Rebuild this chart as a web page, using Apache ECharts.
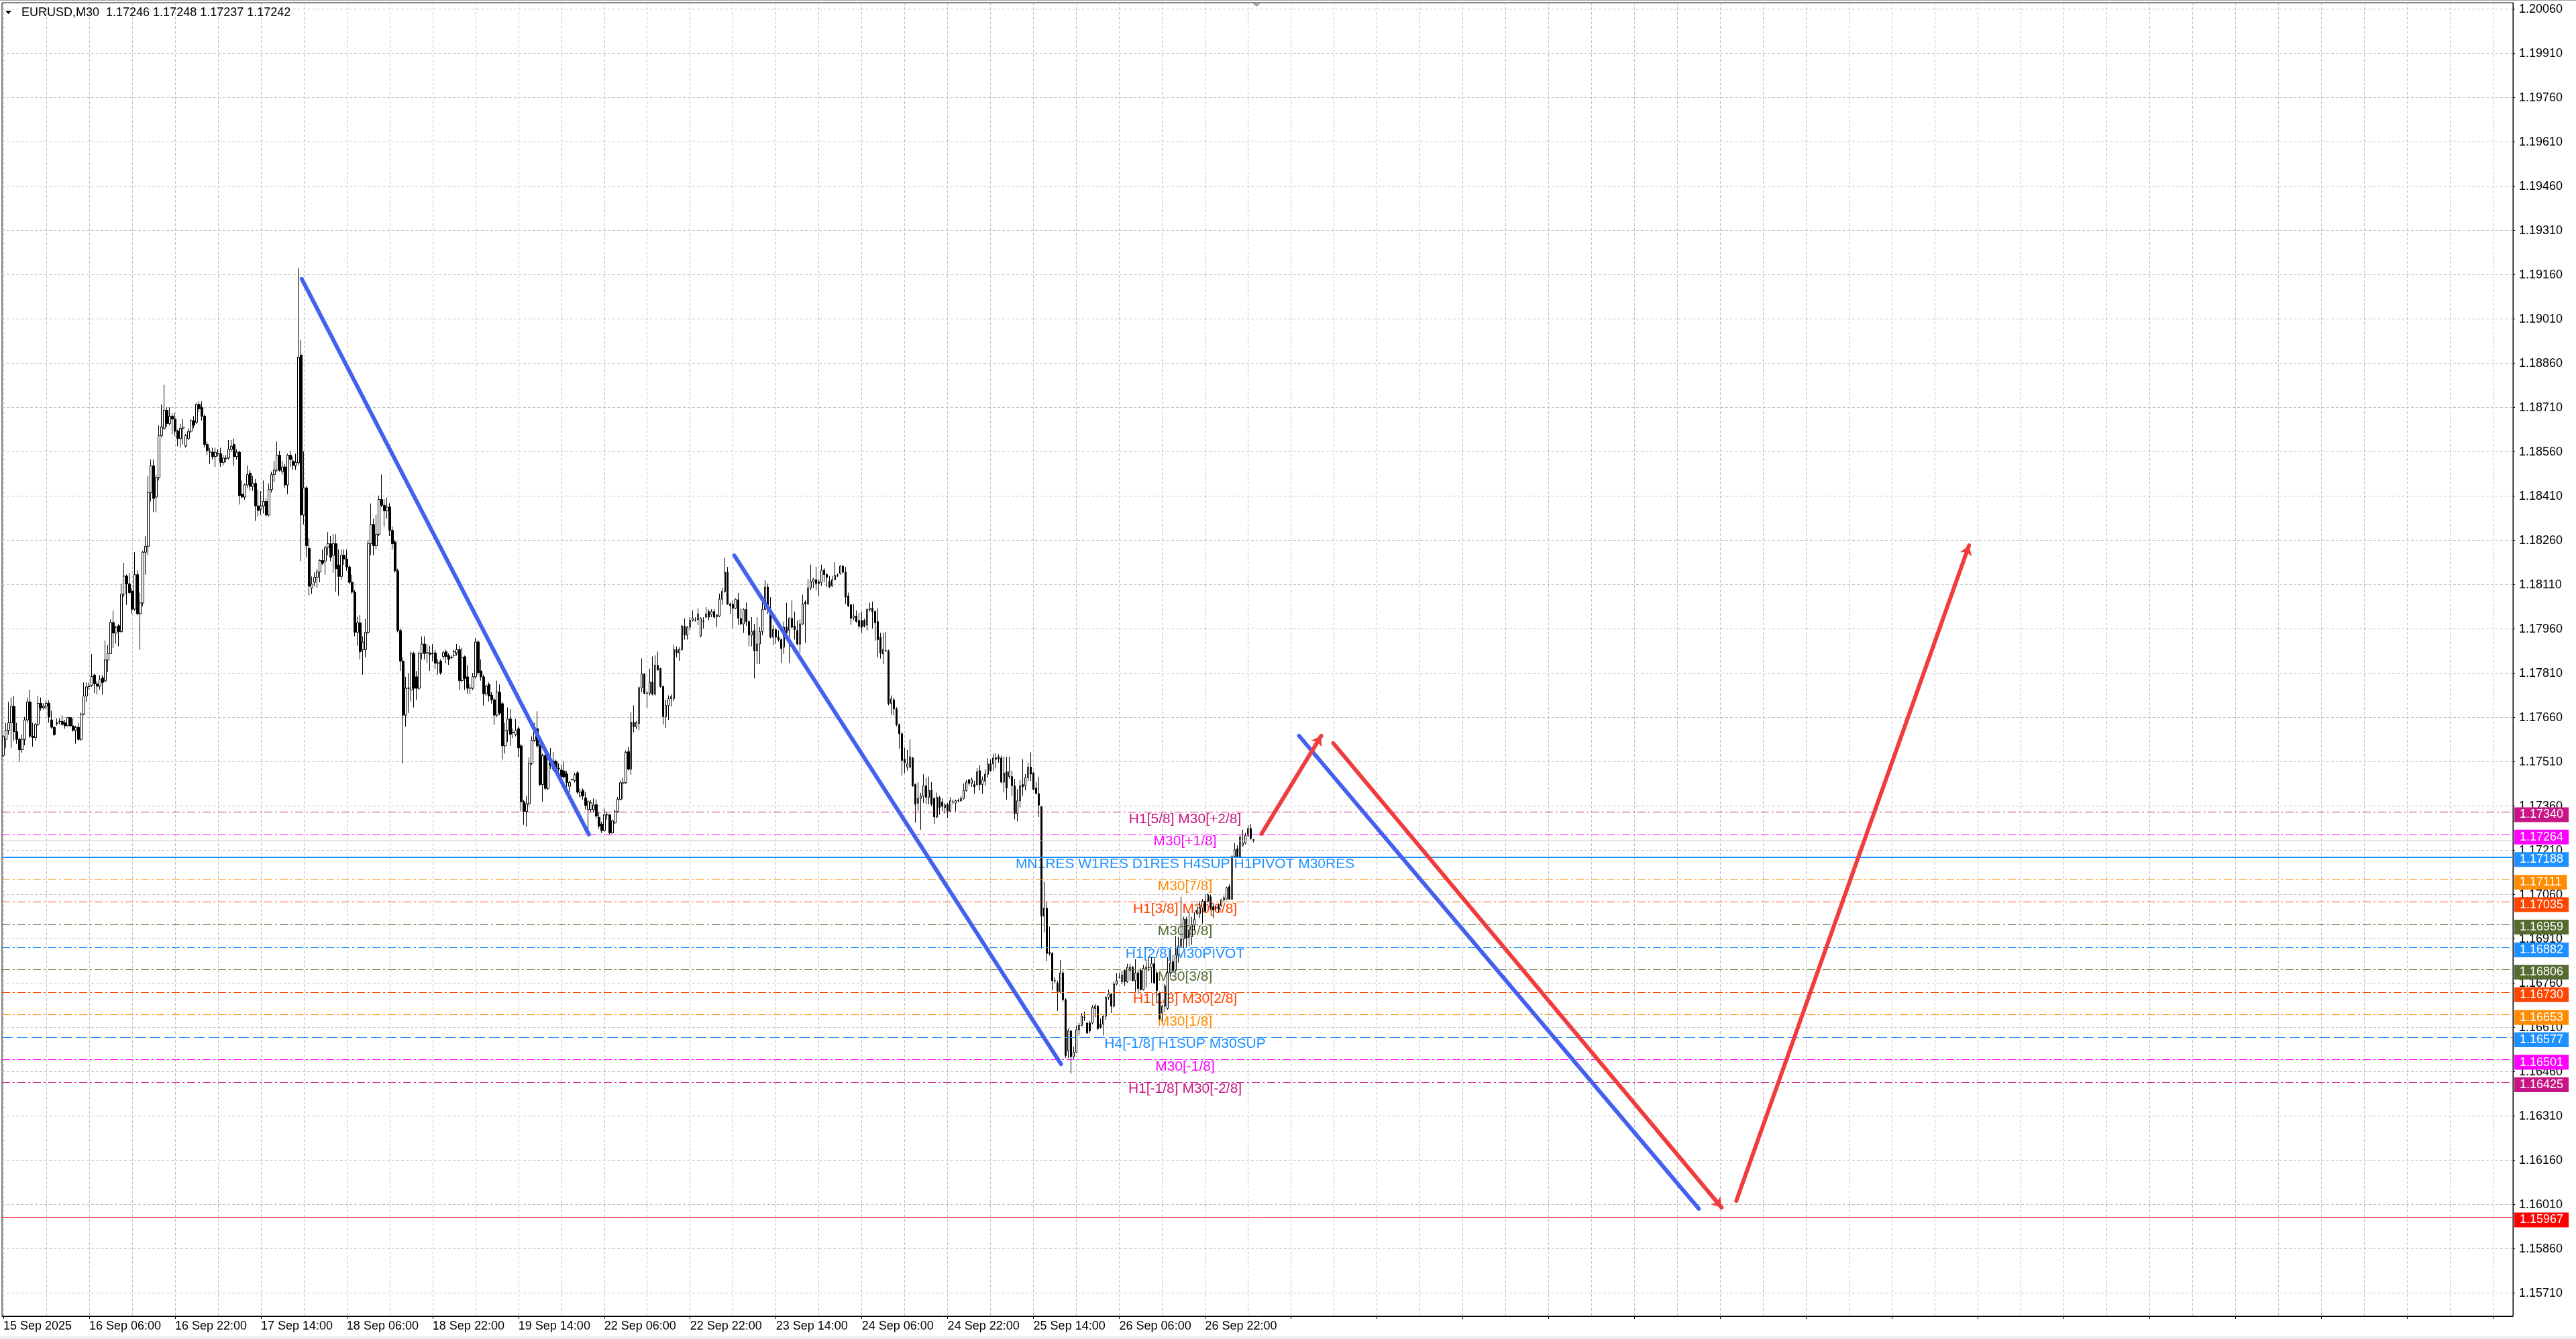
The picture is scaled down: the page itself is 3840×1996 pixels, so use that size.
<!DOCTYPE html>
<html><head><meta charset="utf-8">
<script src="https://cdn.jsdelivr.net/npm/echarts@6/dist/echarts.min.js"></script>
<style>html,body{margin:0;padding:0;background:#fff}#c{width:3840px;height:1996px}</style>
</head><body><div id="c"></div>
<script>
// prices are stored in points (0.00001) relative to 1.17000
const BASE = 1.17, PT = 0.00001;
// [open, high, low, close] for each M30 bar
const bars = [
[531,601,526,596],[586,642,556,617],[617,713,602,642],[642,728,556,698],[698,733,581,612],[612,642,571,586],[586,591,510,551],[551,602,541,586],[586,662,566,652],[652,728,642,713],
[713,754,591,597],[597,642,561,592],[592,642,581,637],[637,733,632,708],[708,728,683,693],[693,708,688,698],[698,718,688,708],[708,718,642,662],[652,683,622,627],[627,630,597,602],
[640,657,632,642],[647,657,637,647],[647,668,632,637],[642,652,622,632],[632,662,630,660],[660,662,627,632],[632,657,612,617],[617,632,571,627],[627,642,581,586],[586,677,581,672],
[672,779,668,733],[733,779,713,764],[765,779,756,766],[769,875,764,799],[804,809,743,774],[774,784,738,766],[766,804,754,789],[794,804,738,779],[784,921,779,855],[855,906,814,877],
[877,992,875,982],[982,1022,895,946],[946,971,911,966],[971,976,901,951],[951,1113,946,1078],[1078,1184,1068,1139],[1139,1144,1042,1113],[1113,1149,1078,1083],[1088,1098,1012,1027],[1027,1220,1022,1144],
[1144,1159,1007,1012],[1012,1083,890,1048],[1048,1225,1037,1220],[1220,1275,1144,1240],[1240,1478,1210,1422],[1422,1534,1392,1513],[1513,1534,1356,1402],[1407,1483,1356,1473],[1473,1650,1463,1615],[1615,1721,1610,1645],
[1640,1787,1635,1701],[1701,1711,1645,1656],[1656,1711,1650,1681],[1681,1691,1620,1671],[1671,1691,1615,1630],[1630,1635,1579,1605],[1605,1655,1575,1640],[1640,1671,1585,1644],[1580,1620,1575,1615],[1605,1640,1600,1630],
[1630,1671,1625,1666],[1666,1681,1640,1650],[1660,1726,1655,1721],[1721,1731,1696,1706],[1711,1731,1666,1681],[1681,1686,1575,1585],[1585,1595,1549,1564],[1559,1574,1519,1560],[1559,1574,1534,1544],[1544,1574,1509,1559],
[1554,1569,1544,1555],[1554,1574,1509,1524],[1524,1549,1514,1539],[1537,1549,1524,1539],[1539,1600,1534,1569],[1569,1600,1559,1579],[1585,1605,1514,1544],[1544,1569,1534,1559],[1559,1564,1382,1412],[1417,1463,1402,1407],
[1407,1453,1397,1448],[1448,1514,1437,1483],[1488,1498,1428,1443],[1443,1478,1428,1453],[1453,1468,1326,1377],[1377,1432,1341,1361],[1366,1427,1346,1377],[1377,1463,1351,1392],[1392,1402,1341,1346],[1346,1453,1341,1432],
[1432,1493,1422,1483],[1483,1529,1458,1498],[1498,1595,1493,1549],[1549,1564,1493,1498],[1493,1529,1483,1509],[1509,1519,1437,1448],[1448,1554,1417,1549],[1549,1564,1509,1534],[1529,1544,1499,1514],[1514,1554,1499,1524],
[1523,2184,1516,1881],[1888,1940,1190,1346],[1346,1562,1314,1438],[1438,1444,1203,1242],[1233,1268,1073,1105],[1099,1138,1079,1112],[1118,1151,1105,1135],[1135,1164,1099,1153],[1153,1196,1118,1192],[1192,1229,1177,1183],
[1190,1242,1144,1236],[1236,1288,1210,1249],[1249,1275,1190,1203],[1210,1281,1151,1249],[1249,1281,1085,1164],[1177,1229,1073,1138],[1138,1229,1127,1210],[1210,1229,1177,1197],[1197,1229,1157,1170],[1170,1177,1112,1118],
[1118,1144,1079,1085],[1085,1092,935,949],[949,1001,903,981],[981,1007,857,883],[890,935,805,916],[890,994,864,949],[949,1262,942,1249],[1249,1385,1210,1314],[1314,1334,1210,1242],[1242,1347,1229,1281],
[1281,1412,1275,1399],[1399,1483,1373,1379],[1379,1399,1307,1360],[1360,1405,1334,1373],[1373,1386,1275,1294],[1294,1307,1229,1249],[1255,1262,1151,1157],[1157,1164,949,955],[955,962,818,851],[851,864,505,668],
[668,798,629,759],[759,811,675,760],[753,883,714,877],[877,883,694,759],[798,818,720,759],[759,883,753,877],[877,935,857,909],[909,935,857,877],[879,909,844,880],[879,903,818,874],
[877,909,851,878],[879,890,825,844],[844,857,805,845],[851,857,805,812],[867,887,857,880],[883,890,844,867],[870,877,838,857],[863,870,857,864],[870,890,864,883],[879,909,870,890],
[890,903,753,785],[785,896,779,864],[866,870,753,792],[798,838,740,759],[759,772,740,760],[759,811,753,798],[798,929,792,916],[916,922,805,812],[818,857,785,798],[798,805,701,740],
[740,772,733,766],[772,779,714,733],[736,746,707,720],[720,727,635,668],[668,785,662,746],[746,772,668,675],[707,714,518,564],[564,642,538,616],[616,694,577,655],[655,688,564,603],
[609,622,590,610],[603,655,596,616],[622,629,525,557],[564,570,342,375],[375,381,296,342],[342,394,290,368],[368,525,362,505],[505,596,499,583],[583,642,577,622],[622,681,557,564],
[564,570,427,433],[433,538,375,531],[531,538,414,420],[420,525,414,518],[518,557,486,499],[512,544,479,486],[512,518,473,486],[488,505,479,487],[482,499,453,459],[479,512,453,459],
[469,479,420,440],[427,446,400,440],[449,453,446,450],[446,473,440,466],[473,479,401,407],[394,420,388,407],[413,420,381,394],[388,407,348,362],[348,381,264,375],[348,380,340,371],
[348,386,341,363],[365,383,318,326],[322,341,284,292],[299,307,269,277],[277,352,273,330],[330,341,314,331],[330,333,265,269],[269,314,265,310],[303,348,299,341],[341,390,337,383],
[383,447,379,439],[438,455,383,439],[439,549,436,542],[545,561,481,485],[485,678,466,644],[644,701,610,629],[629,648,621,644],[640,765,617,761],[761,860,746,807],[807,811,739,742],
[742,750,693,743],[742,826,735,780],[780,867,735,739],[739,871,735,837],[837,883,818,822],[826,829,761,765],[765,769,636,663],[663,720,625,701],[701,735,652,724],[724,739,697,731],
[724,905,716,890],[890,901,864,879],[879,898,852,890],[890,974,886,970],[970,996,924,939],[939,970,924,966],[966,1000,955,989],[989,1023,985,996],[990,1000,985,991],[992,1030,973,1011],
[936,1000,932,996],[986,1000,962,987],[1000,1034,996,1011],[1019,1027,989,1000],[1008,1027,1000,1019],[1019,1027,996,1000],[1001,1011,966,1007],[1004,1080,1000,1061],[1061,1099,1042,1087],[1087,1201,1083,1152],
[1152,1170,1042,1045],[1045,1049,1011,1039],[1044,1057,962,1030],[1030,1064,1027,1061],[1059,1082,974,996],[996,1030,973,977],[977,1030,947,1026],[1026,1049,970,985],[985,989,901,939],[939,1000,901,951],
[955,977,792,886],[886,1000,841,909],[909,966,841,951],[951,1049,939,1026],[1026,1125,1023,1102],[1102,1114,1011,1023],[1023,1068,928,932],[932,973,905,958],[958,962,909,932],[933,955,917,924],
[924,928,845,894],[898,985,875,966],[966,1049,939,947],[955,1000,845,996],[996,1057,962,966],[970,1019,924,958],[955,989,905,909],[909,992,879,977],[977,1076,973,1045],[1051,1057,913,1045],
[1045,1129,1042,1099],[1099,1178,1091,1121],[1120,1133,1099,1129],[1127,1170,1091,1114],[1120,1129,1072,1114],[1118,1178,1106,1159],[1159,1167,1118,1144],[1145,1148,1102,1135],[1121,1140,1099,1102],[1106,1140,1102,1127],
[1127,1186,1125,1142],[1142,1148,1136,1143],[1148,1176,1144,1173],[1173,1176,1148,1152],[1152,1170,1045,1068],[1072,1083,1034,1038],[1042,1045,974,996],[998,1045,989,1004],[1004,1023,981,985],[989,1015,962,970],
[989,1019,947,966],[989,995,965,970],[973,1030,955,1026],[1026,1049,1019,1030],[1030,1053,962,1019],[1019,1023,920,981],[985,1030,864,924],[932,947,860,879],[875,947,841,890],[886,950,882,887],
[886,890,701,708],[708,735,670,723],[720,727,667,689],[689,695,630,636],[636,640,554,605],[605,610,464,515],[519,558,472,507],[492,550,480,503],[492,586,488,527],[523,527,425,429],
[433,437,304,366],[370,441,343,386],[386,405,280,394],[394,468,370,429],[429,456,366,390],[390,460,366,413],[413,441,359,366],[386,390,300,323],[323,406,319,390],[390,394,331,355],
[374,386,343,359],[355,370,335,363],[366,370,319,343],[343,390,339,378],[374,382,366,375],[370,382,342,378],[378,385,372,379],[378,394,374,386],[386,437,382,413],[413,449,409,441],
[449,452,429,437],[437,456,425,449],[433,445,402,425],[433,488,429,476],[480,499,413,433],[433,460,402,449],[445,484,429,468],[468,523,456,503],[503,519,476,480],[503,538,480,523],
[523,538,488,519],[527,535,507,519],[523,531,437,441],[441,527,406,472],[476,527,382,421],[460,527,452,476],[460,480,394,429],[429,452,315,335],[335,417,308,378],[378,449,355,429],
[433,519,394,425],[429,468,413,456],[456,507,445,492],[492,542,445,468],[472,476,413,417],[421,441,400,402],[402,460,323,363],[358,358,-123,-13],[-13,104,-68,14],[14,38,-166,-139],
[-135,-49,-146,-139],[-139,-135,-264,-232],[-232,-220,-240,-231],[-240,-232,-334,-268],[-269,-162,-275,-205],[-205,-197,-303,-296],[-296,-291,-493,-485],[-470,-394,-493,-402],[-402,-398,-546,-489],[-489,-455,-496,-474],
[-474,-383,-477,-398],[-398,-375,-417,-383],[-383,-341,-386,-352],[-355,-337,-368,-356],[-375,-371,-413,-409],[-375,-368,-409,-402],[-375,-314,-379,-322],[-326,-311,-356,-318],[-318,-314,-398,-394],[-379,-360,-394,-390],
[-379,-349,-417,-352],[-352,-284,-364,-288],[-288,-262,-296,-277],[-277,-273,-341,-318],[-318,-235,-322,-243],[-243,-205,-247,-231],[-221,-205,-224,-220],[-235,-197,-243,-212],[-197,-193,-250,-235],[-235,-174,-239,-186],
[-197,-174,-231,-186],[-186,-182,-235,-231],[-231,-159,-269,-205],[-205,-193,-277,-258],[-197,-190,-265,-262],[-262,-178,-265,-190],[-190,-167,-254,-186],[-188,-152,-200,-186],[-186,-152,-239,-174],[-174,-152,-243,-239],
[-205,-197,-303,-265],[-273,-269,-364,-360],[-341,-314,-371,-318],[-318,-243,-337,-250],[-326,-152,-330,-205],[-205,-125,-220,-171],[-167,-144,-205,-197],[-197,-80,-201,-144],[-144,-83,-171,-114],[-114,53,-121,-91],
[-91,-15,-121,-23],[-23,-15,-117,-87],[-83,0,-117,-61],[-83,-15,-110,-42],[-42,0,-61,-23],[-4,23,-11,7],[-4,38,-19,15],[15,45,-38,38],[38,60,0,4],[38,64,34,60],
[53,60,8,15],[19,30,-19,8],[15,23,8,16],[23,30,0,11],[23,45,19,42],[42,57,38,49],[45,87,42,83],[87,95,42,45],[45,193,42,189],[189,235,186,212],
[216,227,186,189],[189,261,186,254],[227,280,223,235],[235,269,231,261],[261,295,254,284],[284,299,246,250],[246,248,237,242]
];
const xLabels = ['15 Sep 2025','16 Sep 06:00','16 Sep 22:00','17 Sep 14:00','18 Sep 06:00','18 Sep 22:00','19 Sep 14:00','22 Sep 06:00','22 Sep 22:00','23 Sep 14:00','24 Sep 06:00','24 Sep 22:00','25 Sep 14:00','26 Sep 06:00','26 Sep 22:00'];
const yTicks = [1.15710,1.15860,1.16010,1.16160,1.16310,1.16460,1.16610,1.16760,1.16910,1.17060,1.17210,1.17360,1.17510,1.17660,1.17810,1.17960,1.18110,1.18260,1.18410,1.18560,1.18710,1.18860,1.19010,1.19160,1.19310,1.19460,1.19610,1.19760,1.19910,1.20060];
const levelPrices = [1.17340,1.17264,1.17188,1.17111,1.17035,1.16959,1.16882,1.16806,1.16730,1.16653,1.16577,1.16501,1.16425,1.15967];
const levelNames = ['H1[5/8] M30[+2/8]','M30[+1/8]','MN1RES W1RES D1RES H4SUP H1PIVOT M30RES','M30[7/8]','H1[3/8] M30[6/8]','M30[5/8]','H1[2/8] M30PIVOT','M30[3/8]','H1[1/8] M30[2/8]','M30[1/8]','H4[-1/8] H1SUP M30SUP','M30[-1/8]','H1[-1/8] M30[-2/8]',''];
const bidPrice = 1.17242;
const titleText = 'EURUSD,M30  1.17246 1.17248 1.17237 1.17242';
// drawn objects: [[barIndex, price], [barIndex, price]]
const blueLines = [[[111.25,1.19146],[218.25,1.17264]],[[272.5,1.18209],[394.25,1.16486]],[[483,1.17598],[632,1.15996]]];
const redArrows = [[[469,1.17266],[491.25,1.17598]],[[495.75,1.17573],[640.5,1.16000]],[[646,1.16023],[732.75,1.18243]]];

// styles
const levelColors = ['#C71585','#FF00FF','#1E90FF','#FF8C00','#FF4500','#556B2F','#1E90FF','#556B2F','#FF4500','#FF8C00','#1E90FF','#FF00FF','#C71585','#FF0000'];
const DASHDOT = [12,4,3,4], DASH = [16,6];
const levelDash = [DASHDOT,DASHDOT,'solid',DASHDOT,DASHDOT,DASHDOT,DASHDOT,DASHDOT,DASHDOT,DASHDOT,DASH,DASHDOT,DASHDOT,'solid'];
const levelWidth = [1,1,2,1,1,1,1,1,1,1,1,1,1,1];
const FONT = 'Liberation Sans';
const NCAT = 936, LABEL_EVERY = 32, GRID_EVERY = 16, LABEL_X = 440.5;

const cats = Array.from({length: NCAT}, (_, i) => String(i));
const candleData = bars.map(b => [BASE + b[0]*PT, BASE + b[3]*PT, BASE + b[2]*PT, BASE + b[1]*PT]);
const labelInt = (i) => i % LABEL_EVERY === 0;
const gridInt = (i) => i % GRID_EVERY === 0;

const markData = levelPrices.map((p, i) => ({
  yAxis: p,
  lineStyle: {color: levelColors[i], type: levelDash[i], width: levelWidth[i], opacity: 1},
  label: {show: true, position: 'end', distance: 2, formatter: p.toFixed(5), color: '#fff',
    backgroundColor: levelColors[i], padding: [2, 8, 2, 8], fontSize: 18, lineHeight: 18,
    fontFamily: FONT, offset: [0, 4]}
}));
markData.unshift({yAxis: bidPrice, lineStyle: {color: '#C0C0C0', type: 'solid', width: 1}, label: {show: false}});

const chart = echarts.init(document.getElementById('c'), null, {renderer: 'canvas'});
chart.setOption({
  animation: false,
  backgroundColor: '#fff',
  title: {text: titleText, left: 32, top: 10, padding: 0,
    textStyle: {fontSize: 18, fontWeight: 'normal', fontFamily: FONT, color: '#000'}},
  grid: {left: 3, top: 4, width: 3743, height: 1958, show: true, borderColor: '#000', borderWidth: 1,
    backgroundColor: '#fff', containLabel: false, outerBoundsMode: 'none'},
  xAxis: [{
    type: 'category', data: cats, boundaryGap: true,
    axisLine: {show: true, onZero: false, lineStyle: {color: '#000', width: 1}},
    axisTick: {show: true, length: 4, alignWithLabel: true, interval: labelInt, lineStyle: {color: '#000'}},
    axisLabel: {show: true, interval: labelInt, align: 'left', margin: 6, color: '#000', fontSize: 18, fontFamily: FONT,
      formatter: (v, i) => xLabels[Math.floor(i / LABEL_EVERY)] || ''},
    splitLine: {show: true, interval: gridInt, alignWithLabel: true, lineStyle: {color: '#C0C0C0', type: [4, 3], width: 1}}
  }, {
    type: 'value', min: -0.5, max: NCAT - 0.5, show: false
  }],
  yAxis: {
    type: 'value', position: 'right', min: 1.1563182, max: 1.2008182, scale: true,
    axisLine: {show: true, onZero: false, lineStyle: {color: '#000', width: 1}},
    axisTick: {show: true, length: 3, customValues: yTicks, lineStyle: {color: '#000'}},
    axisLabel: {show: true, customValues: yTicks, formatter: v => v.toFixed(5), color: '#000', fontSize: 18, fontFamily: FONT, margin: 9},
    splitLine: {show: true, lineStyle: {color: '#C0C0C0', type: [4, 3], width: 1}}
  },
  series: [{
    type: 'scatter', xAxisIndex: 1, yAxisIndex: 0, z: 3, silent: true, symbolSize: 0,
    itemStyle: {color: 'transparent', opacity: 1},
    data: levelNames.map((n, i) => n ? {value: [LABEL_X, levelPrices[i]], name: n, label: {color: levelColors[i]}} : null).filter(Boolean),
    label: {show: true, position: 'bottom', distance: 0, formatter: p => p.name, fontSize: 21, fontFamily: FONT, opacity: 1, textBorderWidth: 0},
    markLine: {silent: true, animation: false, symbol: 'none', precision: 5, data: markData}
  }, {
    type: 'candlestick', xAxisIndex: 0, yAxisIndex: 0, z: 4, silent: true, barWidth: 3, large: false,
    itemStyle: {color: '#fff', color0: '#000', borderColor: '#000', borderColor0: '#000', borderColorDoji: '#000', borderWidth: 1},
    data: candleData
  }, {
    type: 'lines', coordinateSystem: 'cartesian2d', xAxisIndex: 1, yAxisIndex: 0, z: 6, silent: true,
    symbol: ['none', 'none'],
    lineStyle: {color: '#4361EE', width: 6, opacity: 1, cap: 'round', curveness: 0},
    data: blueLines.map(c => ({coords: c}))
  }, {
    type: 'lines', coordinateSystem: 'cartesian2d', xAxisIndex: 1, yAxisIndex: 0, z: 7, silent: true,
    symbol: ['none', 'arrow'], symbolSize: 14,
    lineStyle: {color: '#F03C3C', width: 6, opacity: 1, cap: 'round', curveness: 0},
    data: redArrows.map(c => ({coords: c}))
  }],
  graphic: [
    {type: 'rect', shape: {x: 0, y: 0, width: 3840, height: 1}, style: {fill: '#A0A0A0'}, silent: true},
    {type: 'polygon', shape: {points: [[8, 16], [17, 16], [12.5, 21]]}, style: {fill: '#000'}, silent: true},
    {type: 'polygon', shape: {points: [[1866, 4], [1880, 4], [1873, 10]]}, style: {fill: '#A0A0A0'}, silent: true},
    {type: 'rect', shape: {x: 0, y: 1992, width: 3840, height: 4}, style: {fill: '#EEEEEE'}, silent: true}
  ]
});
</script>
</body></html>
